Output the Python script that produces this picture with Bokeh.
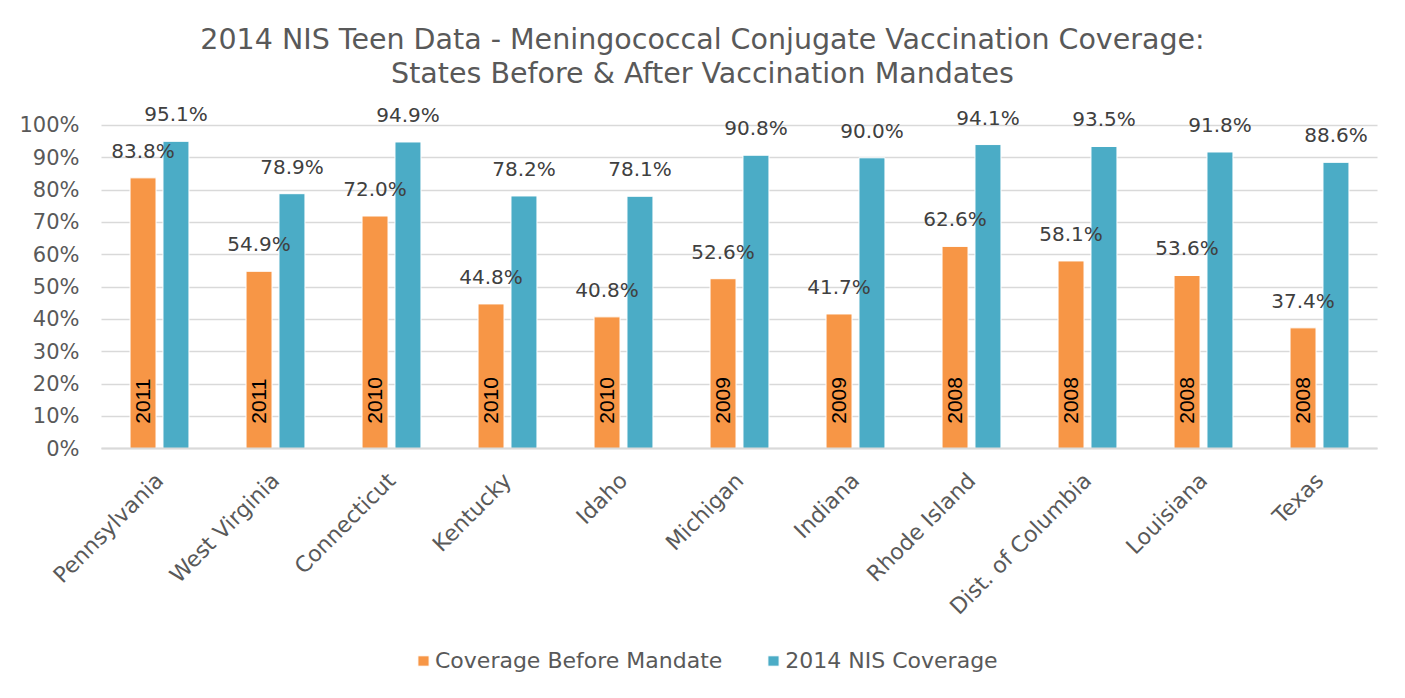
import math
from bokeh.plotting import figure
from bokeh.models import (ColumnDataSource, Range1d, FixedTicker,
                          Legend, LegendItem, Label)
from bokeh.transform import dodge
from bokeh.core.properties import value
from bokeh.embed import file_html
from bokeh.resources import INLINE

states = ["Pennsylvania", "West Virginia", "Connecticut", "Kentucky", "Idaho",
          "Michigan", "Indiana", "Rhode Island", "Dist. of Columbia",
          "Louisiana", "Texas"]
before_mandate = [83.8, 54.9, 72.0, 44.8, 40.8, 52.6, 41.7, 62.6, 58.1, 53.6, 37.4]
nis_2014 = [95.1, 78.9, 94.9, 78.2, 78.1, 90.8, 90.0, 94.1, 93.5, 91.8, 88.6]
mandate_years = ["2011", "2011", "2010", "2010", "2010", "2009", "2009",
                 "2008", "2008", "2008", "2008"]
y_ticks = [0, 10, 20, 30, 40, 50, 60, 70, 80, 90, 100]
y_tick_labels = ["0%", "10%", "20%", "30%", "40%", "50%", "60%", "70%",
                 "80%", "90%", "100%"]
series_names = ["Coverage Before Mandate", "2014 NIS Coverage"]
title_lines = ["2014 NIS Teen Data - Meningococcal Conjugate Vaccination Coverage:",
               "States Before & After Vaccination Mandates"]

ORANGE = "#F79646"
BLUE = "#4BACC6"
GREY_TXT = "#595959"
DARK_TXT = "#404040"
GRID = "#D9D9D9"
FONT = "DejaVu Sans"

n = len(states)
centers = [i + 0.5 for i in range(n)]          # category slots on the x scale

src = ColumnDataSource(dict(
    xc=centers,
    before=before_mandate,
    after=nis_2014,
    year=mandate_years,
    zero=[0] * n,
    before_lbl=[f"{v:.1f}%" for v in before_mandate],
    after_lbl=[f"{v:.1f}%" for v in nis_2014],
))

W, H = 1389, 682
PX_PER_CAT = 116.0
LEFT_PX = 101
# the frame fills the whole canvas; both axes are pinned inside it
p = figure(x_range=Range1d(-LEFT_PX / PX_PER_CAT, (W - LEFT_PX) / PX_PER_CAT),
           y_range=Range1d(-72.3, 138.66),
           width=W, height=H,
           output_backend="svg", toolbar_location=None,
           min_border_left=0, min_border_right=0,
           min_border_top=0, min_border_bottom=0)

OFF = 0.142
BW = 0.224
r1 = p.vbar(x=dodge("xc", -OFF), top="before", width=BW,
            source=src, fill_color=ORANGE, line_color="white", line_width=1)
r2 = p.vbar(x=dodge("xc", OFF), top="after", width=BW,
            source=src, fill_color=BLUE, line_color="white", line_width=1)

p.text(x=dodge("xc", -OFF), y="before", text="before_lbl",
       source=src, text_align="center", text_baseline="alphabetic", y_offset=-27,
       text_font=value(FONT), text_font_size="20px", text_color=DARK_TXT)
p.text(x=dodge("xc", OFF), y="after", text="after_lbl",
       source=src, text_align="center", text_baseline="alphabetic", y_offset=-27,
       text_font=value(FONT), text_font_size="20px", text_color=DARK_TXT)
p.text(x=dodge("xc", -OFF), y="zero", text="year",
       source=src, angle=math.pi / 2, text_align="left", text_baseline="middle",
       y_offset=-25, text_font=value("Liberation Sans"), text_font_size="21px",
       text_color="black")

# two-line chart title, centred on the canvas
for line, y_from_bottom in zip(title_lines, (643, 609)):
    p.add_layout(Label(x=702, y=y_from_bottom, x_units="screen", y_units="screen",
                       text=line, text_align="center", text_baseline="middle",
                       text_font=FONT, text_font_size="28.5px",
                       text_color=GREY_TXT))

# y axis
p.yaxis.fixed_location = 0
p.yaxis.ticker = FixedTicker(ticks=y_ticks)
p.yaxis.major_label_overrides = {t: l for t, l in zip(y_ticks, y_tick_labels)}
p.yaxis.axis_line_color = None
p.yaxis.major_tick_line_color = None
p.yaxis.minor_tick_line_color = None
p.yaxis.major_label_standoff = 16
p.yaxis.major_label_text_font = FONT
p.yaxis.major_label_text_font_size = "21px"
p.yaxis.major_label_text_color = GREY_TXT

# category axis
p.xaxis.fixed_location = 0
p.xaxis.bounds = (0, n)
p.xaxis.ticker = FixedTicker(ticks=centers)
p.xaxis.major_label_overrides = {c: s for c, s in zip(centers, states)}
p.xaxis.axis_line_color = GRID
p.xaxis.axis_line_width = 2
p.xaxis.major_tick_line_color = None
p.xaxis.minor_tick_line_color = None
p.xaxis.major_label_orientation = math.pi / 4
p.xaxis.major_label_standoff = 22
p.xaxis.major_label_text_font = FONT
p.xaxis.major_label_text_font_size = "22px"
p.xaxis.major_label_text_color = GREY_TXT

p.xgrid.grid_line_color = None
p.ygrid.ticker = FixedTicker(ticks=y_ticks)
p.ygrid.grid_line_color = GRID
p.ygrid.grid_line_width = 1.5
try:
    p.ygrid.cross_bounds = (0, n)
except Exception:
    p.ygrid.visible = False
    p.segment(x0=[0] * len(y_ticks), x1=[n] * len(y_ticks), y0=y_ticks,
              y1=y_ticks, line_color=GRID, line_width=1.5, level="underlay")
p.outline_line_color = None

legend = Legend(items=[LegendItem(label=series_names[0], renderers=[r1]),
                       LegendItem(label=series_names[1], renderers=[r2])],
                location=(416, 9), orientation="horizontal",
                glyph_width=14, glyph_height=13, label_standoff=5, spacing=44,
                padding=0, margin=0, border_line_color=None,
                background_fill_alpha=0,
                label_text_font=FONT, label_text_font_size="22px",
                label_text_color=GREY_TXT)
p.add_layout(legend)

open("out.html", "w").write(file_html(p, INLINE))
